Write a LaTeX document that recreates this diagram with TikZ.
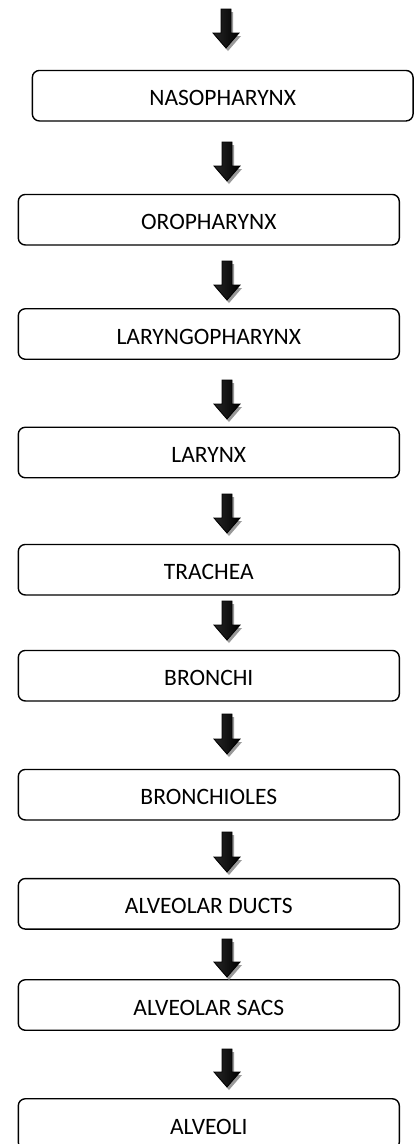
\documentclass[tikz,border=0pt]{standalone}
\usepackage{fontspec}
\setmainfont{Carlito}
\usetikzlibrary{calc}
\tikzset{
  stagebox/.style={draw=black, line width=1.4pt, rounded corners=7pt,
    minimum width=381pt, minimum height=50.5pt, inner sep=0pt,
    font=\fontsize{23.5}{28}\selectfont, text height=20pt, text depth=0pt},
  arrowbody/.style={draw=black, line width=0.8pt, left color=black!85,
    middle color=black!45, right color=black},
  arrowshadow/.style={fill=black!40}
}
\newcommand\blockarr[2]{%
  \fill[arrowshadow] let \p1=(#1), \p2=(#2) in
    (\x1-5pt+2pt,\y1-3pt) -- (\x1+5pt+2pt,\y1-3pt) -- (\x1+5pt+2pt,\y2+15pt-3pt)
    -- (\x1+13pt+2pt,\y2+15pt-3pt) -- (\x1+2pt,\y2-3pt) -- (\x1-13pt+2pt,\y2+15pt-3pt)
    -- (\x1-5pt+2pt,\y2+15pt-3pt) -- cycle;
  \path[arrowbody] let \p1=(#1), \p2=(#2) in
    (\x1-5pt,\y1) -- (\x1+5pt,\y1) -- (\x1+5pt,\y2+15pt)
    -- (\x1+13pt,\y2+15pt) -- (\x1,\y2) -- (\x1-13pt,\y2+15pt)
    -- (\x1-5pt,\y2+15pt) -- cycle;
}
\begin{document}
\begin{tikzpicture}[x=1pt,y=-1pt]
\useasboundingbox (0,0) rectangle (419,1144);
\node[stagebox, minimum width=380.7pt] (b1) at (222.7,95.7) {NASOPHARYNX};
\node[stagebox] (b2) at (208.8,219.7) {OROPHARYNX};
\node[stagebox] (b3) at (208.8,334) {LARYNGOPHARYNX};
\node[stagebox] (b4) at (208.8,452.5) {LARYNX};
\node[stagebox] (b5) at (208.8,569.7) {TRACHEA};
\node[stagebox] (b6) at (208.8,675.7) {BRONCHI};
\node[stagebox] (b7) at (208.8,794.7) {BRONCHIOLES};
\node[stagebox] (b8) at (208.8,903.8) {ALVEOLAR DUCTS};
\node[stagebox] (b9) at (208.8,1005) {ALVEOLAR SACS};
\node[stagebox] (b10) at (208.8,1124) {ALVEOLI};
% arrow end points
\coordinate (t0) at (226,9);    \coordinate (h0) at (226,48);
\coordinate (t1) at (227,142);  \coordinate (h1) at (227,181);
\coordinate (t2) at (227,261);  \coordinate (h2) at (227,300);
\coordinate (t3) at (227,380);  \coordinate (h3) at (227,419);
\coordinate (t4) at (227,494);  \coordinate (h4) at (227,533);
\coordinate (t5) at (227,601);  \coordinate (h5) at (227,640);
\coordinate (t6) at (227,714);  \coordinate (h6) at (227,754);
\coordinate (t7) at (227,832);  \coordinate (h7) at (227,872);
\coordinate (t8) at (227,939);  \coordinate (h8) at (227,977);
\coordinate (t9) at (227,1049); \coordinate (h9) at (227,1087);
\blockarr{t0}{h0}
\blockarr{t1}{h1}
\blockarr{t2}{h2}
\blockarr{t3}{h3}
\blockarr{t4}{h4}
\blockarr{t5}{h5}
\blockarr{t6}{h6}
\blockarr{t7}{h7}
\blockarr{t8}{h8}
\blockarr{t9}{h9}
\end{tikzpicture}
\end{document}
